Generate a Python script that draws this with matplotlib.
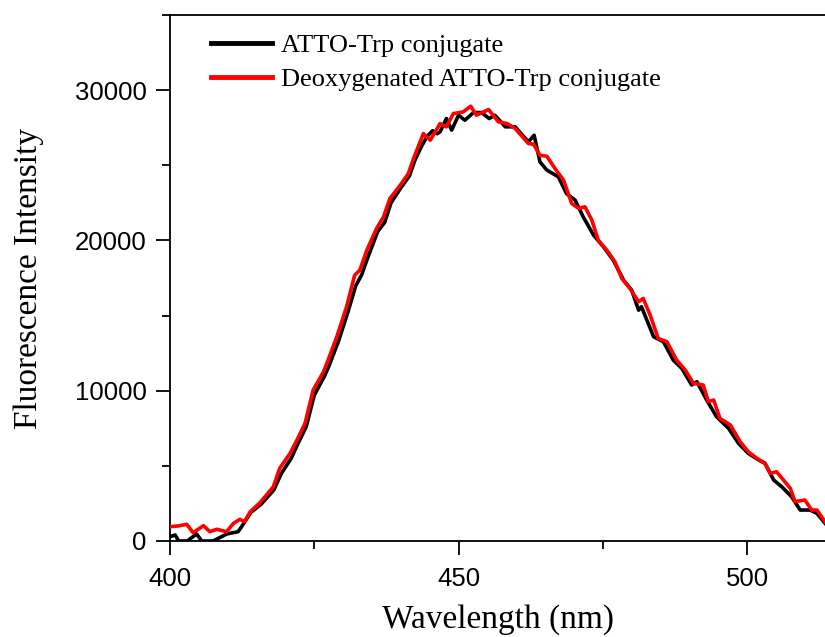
import matplotlib
matplotlib.use("Agg")
import matplotlib.pyplot as plt
from matplotlib.ticker import MultipleLocator, FixedLocator

# Black: ATTO-Trp conjugate
wl_black = [400.0, 400.9, 401.5, 403.0, 404.6, 405.5, 407.5, 409.8, 411.8, 412.4,
            414.0, 415.8, 418.0, 419.3, 421.0, 422.2, 423.6, 425.0, 426.8, 427.6,
            429.2, 430.8, 432.2, 433.2, 434.4, 436.0, 437.2, 438.3, 440.0, 441.5,
            442.4, 443.5, 444.5, 445.5, 446.3, 446.8, 447.9, 448.8, 450.0, 451.1,
            452.6, 454.0, 455.3, 456.3, 458.1, 459.8, 462.1, 463.1, 464.1, 465.3,
            467.3, 468.7, 470.2, 471.6, 473.4, 475.1, 476.8, 478.6, 480.0, 481.2,
            481.7, 483.8, 485.5, 487.2, 488.7, 490.4, 491.3, 493.0, 494.7, 496.8,
            498.5, 500.2, 502.0, 503.1, 504.6, 506.0, 507.7, 509.2, 510.9, 512.1,
            513.5]
int_black = [290, 400, 0, 0, 465, 0, 0, 465, 620, 950,
             1900, 2450, 3400, 4500, 5500, 6500, 7600, 9700, 11000, 11700,
             13300, 15200, 17000, 17700, 19000, 20600, 21200, 22500, 23500, 24300,
             25300, 26200, 26900, 27300, 27100, 27230, 28110, 27340, 28330, 28000,
             28510, 28510, 28110, 28330, 27560, 27560, 26560, 27000, 25230, 24680,
             24230, 23120, 22680, 21570, 20350, 19580, 18690, 17360, 16690, 15360,
             15590, 13590, 13260, 12040, 11480, 10380, 10600, 9380, 8270, 7490,
             6500, 5830, 5390, 5170, 4060, 3610, 2950, 2060, 2060, 1840,
             1180]

# Red: Deoxygenated ATTO-Trp conjugate
wl_red = [400.0, 401.4, 402.9, 404.0, 405.8, 406.9, 408.1, 409.8, 411.0, 412.1,
          412.9, 413.9, 415.6, 417.9, 419.0, 420.8, 422.0, 423.4, 424.8, 426.6,
          427.4, 428.9, 430.6, 432.0, 432.9, 434.1, 435.8, 437.0, 438.1, 439.9,
          441.3, 442.2, 443.9, 445.1, 446.8, 447.9, 449.1, 450.8, 452.1, 453.1,
          455.2, 456.9, 458.4, 459.8, 462.1, 463.0, 464.1, 465.3, 466.7, 468.2,
          469.6, 470.8, 471.9, 473.1, 474.2, 475.7, 477.1, 478.3, 479.7, 481.2,
          482.0, 483.2, 484.6, 486.1, 487.8, 489.3, 490.7, 492.4, 493.3, 494.2,
          495.3, 497.1, 498.8, 500.2, 501.7, 503.1, 504.0, 505.1, 506.3, 507.5,
          508.3, 510.0, 511.2, 512.1, 513.5]
int_red = [953, 1000, 1110, 554, 1020, 620, 780, 620, 1175, 1440,
           1290, 1950, 2550, 3610, 4830, 5830, 6720, 7830, 10040, 11260,
           12040, 13590, 15590, 17690, 18020, 19350, 20800, 21570, 22790, 23680,
           24450, 25450, 27110, 26670, 27780, 27560, 28440, 28550, 28930, 28330,
           28710, 27890, 27780, 27450, 26450, 26400, 25670, 25600, 24790, 24010,
           22460, 22130, 22240, 21350, 20020, 19350, 18580, 17470, 16800, 15920,
           16140, 15030, 13480, 13260, 12040, 11370, 10490, 10380, 9270, 9380,
           8160, 7720, 6610, 5940, 5500, 5170, 4500, 4610, 4060, 3500,
           2620, 2730, 2060, 2060, 1290]

labels = ["ATTO-Trp conjugate", "Deoxygenated ATTO-Trp conjugate"]
x_ticks = [400, 450, 500]
y_ticks = [0, 10000, 20000, 30000]

fig = plt.figure(figsize=(8.25, 6.37), dpi=100)
ax = fig.add_axes([170/825, 1 - 541/637, 1 - 170/825, 526/637])

ax.plot(wl_black, int_black, color="black", lw=2.6, label=labels[0], zorder=2)
ax.plot(wl_red, int_red, color="#ff0000", lw=2.6, label=labels[1], zorder=3)

ax.set_xlim(400, 513.5)
ax.set_ylim(0, 35000)

ax.xaxis.set_major_locator(FixedLocator(x_ticks))
ax.xaxis.set_minor_locator(MultipleLocator(25))
ax.yaxis.set_major_locator(FixedLocator(y_ticks))
ax.yaxis.set_minor_locator(MultipleLocator(5000))

ax.spines["right"].set_visible(False)
for s in ["left", "bottom", "top"]:
    ax.spines[s].set_linewidth(1.3)

ax.tick_params(axis="both", which="major", direction="out", length=10, width=1.3,
               labelsize=18.5, pad=7)
ax.tick_params(axis="x", which="major", pad=9)
ax.tick_params(axis="both", which="minor", direction="out", length=6, width=1.3)
for lab in ax.get_xticklabels() + ax.get_yticklabels():
    lab.set_fontfamily("Liberation Sans")

ax.set_xlabel("Wavelength (nm)", fontsize=24, fontfamily="Liberation Serif", labelpad=9)
ax.set_ylabel("Fluorescence Intensity", fontsize=24, fontfamily="Liberation Serif", labelpad=22)

leg = ax.legend(loc="upper left", bbox_to_anchor=(0.047, 0.985), frameon=False,
                prop={"family": "Liberation Serif", "size": 19},
                handlelength=2.3, handletextpad=0.35, labelspacing=0.42,
                borderaxespad=0)
for h in leg.get_lines():
    h.set_linewidth(3.5)

fig.savefig("out.png", dpi=100)
